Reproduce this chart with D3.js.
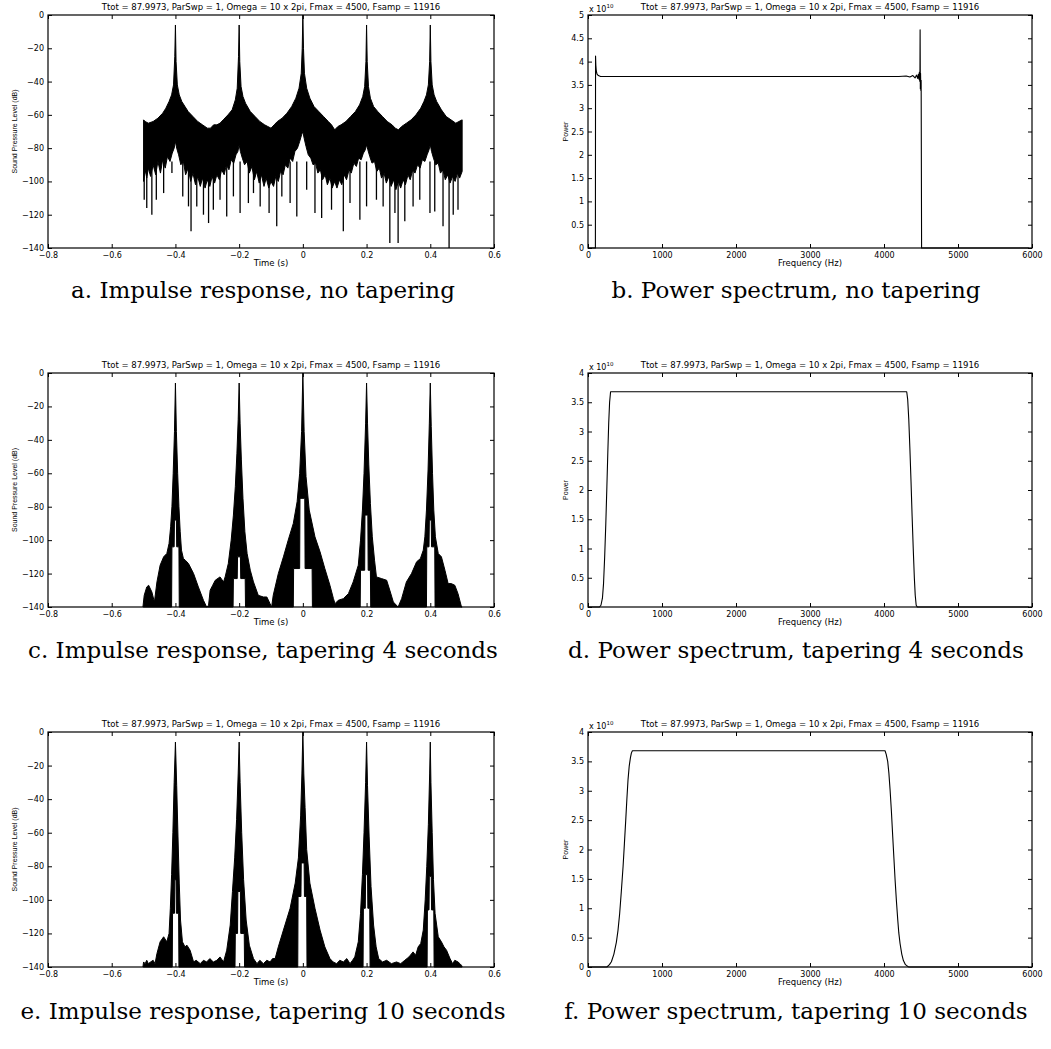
<!DOCTYPE html>
<html>
<head>
<meta charset="utf-8">
<script src="https://cdn.jsdelivr.net/npm/d3@7"></script>
<style>
  body { margin: 0; background: #fff; }
  svg { display: block; }
</style>
</head>
<body>
<div id="chart"></div>
<script>
// Axis ticks
const timeTicks = [-0.8, -0.6, -0.4, -0.2, 0, 0.2, 0.4, 0.6];
const dbTicks = [0, -20, -40, -60, -80, -100, -120, -140];
const freqTicks = [0, 1000, 2000, 3000, 4000, 5000, 6000];
const powerTicksB = [0, 0.5, 1, 1.5, 2, 2.5, 3, 3.5, 4, 4.5, 5];
const powerTicksDF = [0, 0.5, 1, 1.5, 2, 2.5, 3, 3.5, 4];

const plotTitle = "Ttot = 87.9973, ParSwp = 1, Omega = 10 x 2pi, Fmax = 4500, Fsamp = 11916";
const captions = [
  "a. Impulse response, no tapering",
  "b. Power spectrum, no tapering",
  "c. Impulse response, tapering 4 seconds",
  "d. Power spectrum, tapering 4 seconds",
  "e. Impulse response, tapering 10 seconds",
  "f. Power spectrum, tapering 10 seconds"
];

// Impulse response a (no tapering): upper / lower edge of the dense band, [time s, dB]
const upperA = [[-0.5,-63],[-0.495,-64],[-0.485,-65],[-0.47,-64],[-0.455,-62],[-0.44,-59],[-0.43,-56],[-0.42,-52],[-0.412,-48],[-0.406,-42],[-0.402,-25],[-0.4,-6],[-0.398,-28],[-0.394,-42],[-0.388,-48],[-0.38,-52],[-0.37,-55],[-0.36,-58],[-0.345,-61],[-0.33,-64],[-0.315,-66],[-0.3,-68],[-0.29,-68],[-0.28,-66],[-0.27,-66],[-0.26,-65],[-0.25,-63],[-0.235,-60],[-0.222,-57],[-0.212,-51],[-0.206,-44],[-0.202,-25],[-0.2,-6],[-0.198,-28],[-0.194,-43],[-0.188,-49],[-0.18,-53],[-0.165,-58],[-0.15,-61],[-0.135,-64],[-0.12,-66],[-0.11,-67],[-0.1,-68],[-0.09,-66],[-0.08,-64],[-0.065,-62],[-0.05,-59],[-0.035,-55],[-0.022,-50],[-0.012,-44],[-0.005,-35],[-0.002,-20],[0,0],[0.002,-20],[0.005,-35],[0.012,-44],[0.022,-50],[0.035,-55],[0.05,-58],[0.065,-61],[0.08,-64],[0.09,-66],[0.1,-69],[0.11,-67],[0.12,-66],[0.135,-64],[0.15,-61],[0.165,-58],[0.178,-54],[0.188,-49],[0.194,-43],[0.198,-28],[0.2,-6],[0.202,-28],[0.206,-43],[0.212,-50],[0.222,-55],[0.235,-58],[0.25,-61],[0.265,-64],[0.28,-66],[0.29,-68],[0.3,-69],[0.31,-67],[0.325,-65],[0.34,-63],[0.355,-60],[0.37,-56],[0.38,-52],[0.388,-48],[0.394,-42],[0.398,-28],[0.4,-6],[0.402,-28],[0.406,-42],[0.412,-48],[0.42,-52],[0.435,-57],[0.45,-61],[0.465,-63],[0.48,-65],[0.49,-64],[0.5,-63]];
const lowerA = [[-0.5,-100],[-0.495,-93],[-0.49,-98],[-0.485,-92],[-0.478,-97],[-0.47,-90],[-0.462,-96],[-0.455,-88],[-0.447,-95],[-0.44,-87],[-0.432,-92],[-0.425,-85],[-0.417,-88],[-0.41,-83],[-0.404,-80],[-0.4,-76],[-0.396,-80],[-0.39,-84],[-0.383,-90],[-0.375,-88],[-0.368,-96],[-0.36,-92],[-0.352,-100],[-0.345,-95],[-0.337,-102],[-0.33,-97],[-0.322,-103],[-0.315,-98],[-0.307,-104],[-0.3,-99],[-0.292,-103],[-0.285,-97],[-0.277,-101],[-0.27,-96],[-0.262,-99],[-0.255,-93],[-0.247,-96],[-0.24,-90],[-0.232,-93],[-0.225,-87],[-0.217,-89],[-0.21,-84],[-0.204,-82],[-0.2,-78],[-0.196,-82],[-0.19,-86],[-0.183,-90],[-0.175,-88],[-0.168,-95],[-0.16,-91],[-0.152,-99],[-0.145,-94],[-0.137,-101],[-0.13,-96],[-0.122,-103],[-0.115,-98],[-0.107,-104],[-0.1,-100],[-0.092,-103],[-0.085,-97],[-0.077,-100],[-0.07,-94],[-0.062,-96],[-0.055,-90],[-0.047,-92],[-0.04,-86],[-0.032,-88],[-0.025,-82],[-0.017,-80],[-0.01,-76],[-0.004,-72],[0,-70],[0.004,-74],[0.01,-79],[0.017,-84],[0.025,-86],[0.032,-90],[0.04,-89],[0.047,-95],[0.055,-93],[0.062,-99],[0.07,-96],[0.077,-102],[0.085,-98],[0.092,-104],[0.1,-100],[0.107,-104],[0.115,-99],[0.122,-102],[0.13,-96],[0.137,-99],[0.145,-93],[0.152,-95],[0.16,-89],[0.168,-91],[0.175,-86],[0.183,-87],[0.19,-83],[0.196,-81],[0.2,-78],[0.204,-81],[0.21,-85],[0.217,-89],[0.225,-88],[0.232,-94],[0.24,-92],[0.247,-98],[0.255,-95],[0.262,-101],[0.27,-97],[0.277,-103],[0.285,-99],[0.292,-105],[0.3,-100],[0.307,-104],[0.315,-99],[0.322,-102],[0.33,-96],[0.337,-99],[0.345,-93],[0.352,-95],[0.36,-90],[0.368,-92],[0.375,-87],[0.383,-88],[0.39,-84],[0.396,-81],[0.4,-78],[0.404,-82],[0.41,-86],[0.417,-90],[0.425,-89],[0.432,-95],[0.44,-93],[0.447,-99],[0.455,-96],[0.462,-101],[0.47,-97],[0.478,-100],[0.485,-95],[0.492,-98],[0.5,-94]];
// downward spikes below the band: [time s, lowest dB]
const spikesA = [[-0.498,-111],[-0.49,-116],[-0.474,-120],[-0.46,-111],[-0.437,-107],[-0.411,-95],[-0.377,-109],[-0.359,-115],[-0.351,-130],[-0.333,-115],[-0.312,-120],[-0.296,-125],[-0.281,-117],[-0.26,-111],[-0.239,-121],[-0.218,-109],[-0.197,-119],[-0.171,-113],[-0.155,-107],[-0.134,-115],[-0.106,-119],[-0.082,-127],[-0.066,-109],[-0.04,-113],[-0.019,-121],[0.012,-105],[0.038,-119],[0.059,-122],[0.09,-117],[0.127,-130],[0.148,-113],[0.179,-123],[0.2,-115],[0.231,-111],[0.252,-115],[0.273,-137],[0.289,-119],[0.299,-137],[0.32,-124],[0.346,-115],[0.367,-111],[0.399,-119],[0.414,-118],[0.44,-127],[0.459,-140],[0.472,-120],[0.487,-117]];

// Impulse response c (tapering 4 s)
const upperC = [[-0.502,-140],[-0.498,-133],[-0.49,-128],[-0.484,-127],[-0.474,-131],[-0.466,-137],[-0.458,-125],[-0.448,-115],[-0.437,-110],[-0.427,-108],[-0.42,-102],[-0.415,-92],[-0.411,-80],[-0.407,-60],[-0.403,-35],[-0.4,-6],[-0.397,-35],[-0.393,-60],[-0.389,-80],[-0.385,-95],[-0.381,-106],[-0.375,-111],[-0.369,-112],[-0.359,-114],[-0.343,-120],[-0.328,-128],[-0.312,-136],[-0.302,-140],[-0.296,-139],[-0.291,-130],[-0.283,-127],[-0.275,-124],[-0.26,-122],[-0.249,-125],[-0.244,-122],[-0.234,-114],[-0.225,-100],[-0.218,-85],[-0.212,-68],[-0.207,-48],[-0.203,-28],[-0.2,-6],[-0.197,-30],[-0.193,-52],[-0.188,-75],[-0.182,-95],[-0.175,-108],[-0.165,-118],[-0.155,-125],[-0.14,-133],[-0.124,-134],[-0.113,-134],[-0.103,-138],[-0.098,-140],[-0.093,-133],[-0.077,-120],[-0.061,-110],[-0.046,-100],[-0.03,-90],[-0.018,-77],[-0.01,-60],[-0.004,-35],[0,0],[0.004,-35],[0.01,-62],[0.02,-82],[0.038,-98],[0.054,-107],[0.069,-117],[0.085,-127],[0.096,-135],[0.101,-138],[0.111,-136],[0.127,-135],[0.143,-132],[0.158,-125],[0.174,-115],[0.181,-100],[0.187,-82],[0.192,-60],[0.197,-30],[0.2,-6],[0.203,-30],[0.207,-55],[0.212,-78],[0.218,-98],[0.225,-112],[0.231,-122],[0.247,-123],[0.263,-124],[0.273,-130],[0.284,-137],[0.299,-140],[0.31,-135],[0.325,-125],[0.341,-120],[0.357,-113],[0.369,-111],[0.378,-106],[0.383,-98],[0.388,-82],[0.393,-58],[0.397,-30],[0.4,-6],[0.403,-32],[0.407,-60],[0.411,-82],[0.416,-98],[0.425,-108],[0.435,-110],[0.446,-118],[0.456,-126],[0.466,-126],[0.477,-127],[0.487,-132],[0.498,-140],[0.5,-140]];
const lowerC = [[-0.5,-140],[-0.412,-140],[-0.411,-104],[-0.404,-104],[-0.403,-88],[-0.397,-88],[-0.396,-104],[-0.389,-104],[-0.388,-140],[-0.219,-140],[-0.218,-123],[-0.206,-123],[-0.205,-110],[-0.196,-110],[-0.195,-123],[-0.181,-123],[-0.18,-140],[-0.03,-140],[-0.029,-117],[-0.01,-117],[-0.009,-75],[0.006,-75],[0.007,-117],[0.029,-117],[0.03,-140],[0.18,-140],[0.181,-118],[0.194,-118],[0.195,-85],[0.204,-85],[0.205,-118],[0.212,-118],[0.213,-140],[0.388,-140],[0.389,-104],[0.396,-104],[0.397,-88],[0.403,-88],[0.404,-104],[0.414,-104],[0.415,-140],[0.5,-140]];

// Impulse response e (tapering 10 s)
const upperE = [[-0.502,-140],[-0.5,-137],[-0.495,-138],[-0.49,-136],[-0.485,-138],[-0.478,-137],[-0.47,-136],[-0.464,-138],[-0.458,-132],[-0.448,-125],[-0.437,-122],[-0.427,-125],[-0.42,-120],[-0.416,-105],[-0.412,-85],[-0.408,-60],[-0.404,-30],[-0.4,-6],[-0.396,-32],[-0.392,-62],[-0.388,-90],[-0.384,-112],[-0.378,-125],[-0.37,-128],[-0.364,-127],[-0.354,-130],[-0.343,-137],[-0.335,-136],[-0.322,-138],[-0.312,-136],[-0.302,-137],[-0.292,-135],[-0.281,-137],[-0.27,-136],[-0.26,-134],[-0.249,-137],[-0.239,-130],[-0.228,-115],[-0.221,-95],[-0.214,-75],[-0.208,-52],[-0.203,-25],[-0.2,-6],[-0.197,-30],[-0.192,-60],[-0.186,-88],[-0.178,-112],[-0.168,-127],[-0.155,-135],[-0.144,-138],[-0.135,-136],[-0.124,-138],[-0.113,-136],[-0.103,-137],[-0.095,-135],[-0.087,-135],[-0.077,-128],[-0.061,-118],[-0.04,-105],[-0.024,-90],[-0.014,-75],[-0.007,-50],[-0.003,-25],[0,0],[0.003,-25],[0.007,-45],[0.012,-70],[0.022,-90],[0.038,-105],[0.054,-118],[0.069,-128],[0.085,-135],[0.095,-137],[0.106,-138],[0.116,-136],[0.127,-137],[0.138,-135],[0.148,-138],[0.156,-136],[0.163,-134],[0.174,-125],[0.181,-108],[0.187,-85],[0.192,-60],[0.197,-30],[0.2,-6],[0.203,-32],[0.208,-62],[0.214,-92],[0.222,-115],[0.23,-128],[0.238,-135],[0.25,-137],[0.263,-136],[0.278,-138],[0.294,-137],[0.307,-138],[0.32,-136],[0.333,-134],[0.346,-131],[0.354,-133],[0.362,-128],[0.37,-126],[0.378,-118],[0.384,-100],[0.389,-80],[0.394,-55],[0.398,-25],[0.4,-6],[0.402,-30],[0.406,-60],[0.41,-88],[0.415,-108],[0.425,-122],[0.435,-125],[0.443,-128],[0.451,-130],[0.462,-135],[0.47,-138],[0.477,-136],[0.487,-137],[0.493,-138],[0.498,-139],[0.5,-140]];
const lowerE = [[-0.5,-140],[-0.41,-140],[-0.409,-108],[-0.403,-108],[-0.402,-88],[-0.398,-88],[-0.397,-108],[-0.39,-108],[-0.389,-140],[-0.213,-140],[-0.212,-120],[-0.205,-120],[-0.204,-95],[-0.196,-95],[-0.195,-120],[-0.184,-120],[-0.183,-140],[-0.016,-140],[-0.015,-98],[-0.006,-98],[-0.005,-78],[0.004,-78],[0.005,-98],[0.012,-98],[0.013,-140],[0.189,-140],[0.19,-105],[0.196,-105],[0.197,-85],[0.203,-85],[0.204,-105],[0.21,-105],[0.211,-140],[0.39,-140],[0.391,-106],[0.396,-106],[0.397,-86],[0.403,-86],[0.404,-106],[0.411,-106],[0.412,-140],[0.5,-140]];

// Power spectra: [frequency Hz, power x 1e10]
const spectrumB = [[0,0],[100,0],[102,4.12],[106,3.92],[112,3.8],[122,3.73],[140,3.7],[170,3.68],[4200,3.68],[4300,3.69],[4350,3.67],[4390,3.7],[4420,3.65],[4440,3.71],[4455,3.64],[4465,3.73],[4472,3.62],[4478,3.77],[4483,3.58],[4486,3.85],[4488,4.68],[4491,3.42],[4494,3.75],[4498,3.38],[4502,3.6],[4508,0],[5958,0]];
const spectrumD = [[0,0],[155,0],[175,0.03],[195,0.15],[210,0.4],[225,0.85],[240,1.4],[255,2.05],[268,2.65],[280,3.15],[292,3.5],[305,3.68],[4307,3.68],[4320,3.55],[4335,3.2],[4350,2.7],[4365,2.15],[4380,1.55],[4395,1.0],[4410,0.5],[4422,0.2],[4435,0.03],[4450,0],[5958,0]];
const spectrumF = [[0,0],[255,0],[290,0.04],[316,0.09],[350,0.22],[383,0.42],[405,0.62],[428,0.91],[450,1.28],[474,1.71],[492,2.1],[510,2.5],[525,2.85],[541,3.19],[557,3.42],[573,3.56],[586,3.64],[600,3.68],[4014,3.68],[4030,3.62],[4050,3.5],[4066,3.3],[4082,3.02],[4100,2.65],[4118,2.22],[4134,1.85],[4150,1.48],[4168,1.12],[4186,0.8],[4200,0.58],[4217,0.4],[4240,0.22],[4262,0.11],[4290,0.04],[4321,0.01],[4340,0],[5958,0]];

const W = 1051, H = 1049;
const svg = d3.select("#chart").append("svg")
  .attr("width", W)
  .attr("height", H);
svg.append("rect").attr("width", W).attr("height", H).attr("fill", "#fff");

const cols = [{ left: 48, right: 494, center: 263 }, { left: 588, right: 1032, center: 796 }];
const rows = [{ top: 15, bottom: 248 }, { top: 373, bottom: 607 }, { top: 732, bottom: 967 }];
const captionY = [298, 658, 1019];
const fmt = d3.format("~g");

// box with inward ticks on all four sides, MATLAB style
function drawFrame(g, x, y, xTicks, yTicks, xLabel, yLabel, yLabelOffset) {
  const [x0, x1] = x.range();
  const [y0, y1] = y.range();

  g.append("g").attr("transform", `translate(0,${y0})`)
    .call(d3.axisBottom(x).tickValues(xTicks).tickSize(-4).tickPadding(4).tickFormat(fmt));
  g.append("g").attr("transform", `translate(0,${y1})`)
    .call(d3.axisTop(x).tickValues(xTicks).tickSize(-4).tickFormat(""));
  g.append("g").attr("transform", `translate(${x0},0)`)
    .call(d3.axisLeft(y).tickValues(yTicks).tickSize(-4).tickPadding(4).tickFormat(fmt));
  g.append("g").attr("transform", `translate(${x1},0)`)
    .call(d3.axisRight(y).tickValues(yTicks).tickSize(-4).tickFormat(""));

  g.selectAll(".domain").remove();
  g.selectAll(".tick line").attr("stroke", "#000");
  g.selectAll(".tick text")
    .attr("fill", "#000")
    .attr("font-family", "DejaVu Sans")
    .attr("font-size", 8);

  g.append("rect")
    .attr("x", x0).attr("y", y1)
    .attr("width", x1 - x0).attr("height", y0 - y1)
    .attr("fill", "none")
    .attr("stroke", "#000")
    .attr("stroke-width", 1.2);

  g.append("text")
    .attr("x", (x0 + x1) / 2).attr("y", y1 - 5)
    .attr("text-anchor", "middle")
    .attr("font-family", "DejaVu Sans")
    .attr("font-size", 8.5)
    .text(plotTitle);

  g.append("text")
    .attr("x", (x0 + x1) / 2).attr("y", y0 + 18)
    .attr("text-anchor", "middle")
    .attr("font-family", "DejaVu Sans")
    .attr("font-size", 8.5)
    .text(xLabel);

  g.append("text")
    .attr("transform", `translate(${x0 - yLabelOffset},${(y0 + y1) / 2}) rotate(-90)`)
    .attr("text-anchor", "middle")
    .attr("font-family", "Liberation Sans")
    .attr("font-size", 7)
    .text(yLabel);
}

function impulsePanel(row, upper, lower, spikes) {
  const c = cols[0], r = rows[row];
  const x = d3.scaleLinear().domain([-0.8, 0.6]).range([c.left, c.right]);
  const y = d3.scaleLinear().domain([-140, 0]).range([r.bottom, r.top]);
  const g = svg.append("g");
  const line = d3.line().x(d => x(d[0])).y(d => y(d[1]));

  g.append("path")
    .attr("d", line(upper.concat(lower.slice().reverse())) + "Z")
    .attr("fill", "#000")
    .attr("stroke", "#000")
    .attr("stroke-width", 1)
    .attr("stroke-linejoin", "miter");

  if (spikes) {
    g.selectAll("line.spike")
      .data(spikes)
      .enter()
      .append("line")
      .attr("class", "spike")
      .attr("x1", d => x(d[0])).attr("x2", d => x(d[0]))
      .attr("y1", y(-88)).attr("y2", d => y(d[1]))
      .attr("stroke", "#000")
      .attr("stroke-width", 1.3);
  }

  drawFrame(g, x, y, timeTicks, dbTicks, "Time (s)", "Sound Pressure Level (dB)", 31);
}

function spectrumPanel(row, data, yMax, yTicks) {
  const c = cols[1], r = rows[row];
  const x = d3.scaleLinear().domain([0, 6000]).range([c.left, c.right]);
  const y = d3.scaleLinear().domain([0, yMax]).range([r.bottom, r.top]);
  const g = svg.append("g");

  g.append("path")
    .datum(data)
    .attr("d", d3.line().x(d => x(d[0])).y(d => y(d[1])))
    .attr("fill", "none")
    .attr("stroke", "#000")
    .attr("stroke-width", 1.1)
    .attr("stroke-linejoin", "round");

  drawFrame(g, x, y, freqTicks, yTicks, "Frequency (Hz)", "Power", 20);

  // exponent label "x 10^10" above the y axis
  const t = g.append("text")
    .attr("x", c.left + 1).attr("y", r.top - 3)
    .attr("font-family", "DejaVu Sans")
    .attr("font-size", 8);
  t.append("tspan").text("x 10");
  t.append("tspan").attr("dy", -4).attr("font-size", 5.5).text("10");
}

impulsePanel(0, upperA, lowerA, spikesA);
impulsePanel(1, upperC, lowerC, null);
impulsePanel(2, upperE, lowerE, null);
spectrumPanel(0, spectrumB, 5, powerTicksB);
spectrumPanel(1, spectrumD, 4, powerTicksDF);
spectrumPanel(2, spectrumF, 4, powerTicksDF);

// captions under each panel
svg.selectAll("text.caption")
  .data(captions)
  .enter()
  .append("text")
  .attr("class", "caption")
  .attr("x", (d, i) => cols[i % 2].center)
  .attr("y", (d, i) => captionY[Math.floor(i / 2)])
  .attr("text-anchor", "middle")
  .attr("font-family", "DejaVu Serif")
  .attr("font-size", 23)
  .attr("fill", "#000")
  .text(d => d);
</script>
</body>
</html>
